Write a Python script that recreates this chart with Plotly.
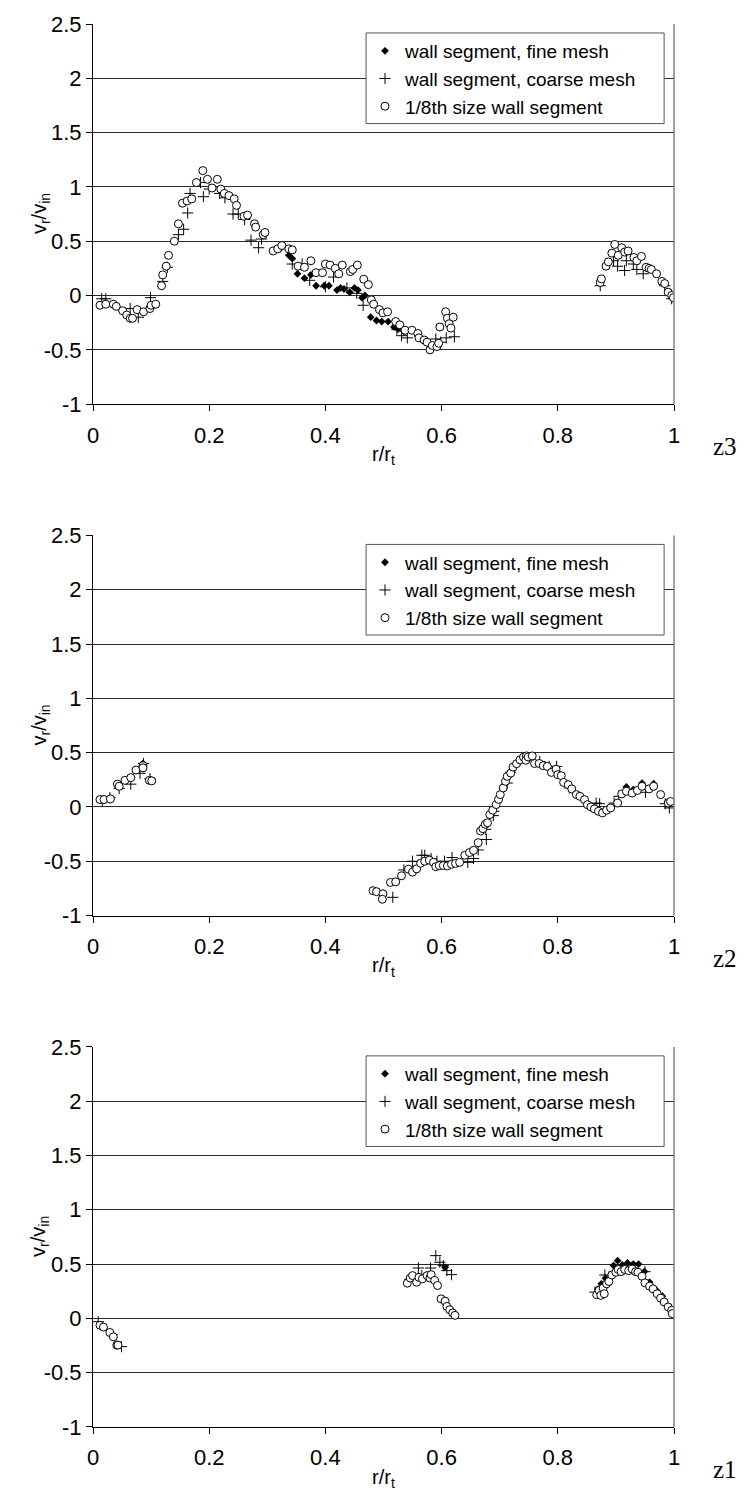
import plotly.graph_objects as go

# ---------------- data (r/r_t , v_r/v_in) ----------------
# panel z3 (top)
z3_fine = [(0.322,0.43),(0.337,0.37),(0.343,0.34),(0.352,0.2),(0.364,0.16),(0.375,0.19),(0.384,0.09),
           (0.398,0.09),(0.406,0.09),(0.42,0.05),(0.426,0.07),(0.432,0.06),(0.442,0.03),(0.45,0.07),
           (0.456,0.05),(0.463,-0.02),(0.468,0.0),(0.478,-0.2),(0.488,-0.23),(0.497,-0.24),(0.508,-0.24),
           (0.518,-0.29),(0.525,-0.31),(0.535,-0.33)]
z3_coarse = [(0.015,-0.03),(0.022,-0.03),(0.064,-0.12),(0.078,-0.2),(0.099,-0.02),(0.12,0.13),(0.128,0.26),
             (0.147,0.56),(0.156,0.61),(0.163,0.76),(0.167,0.94),(0.185,1.04),(0.19,0.91),(0.2,0.98),
             (0.218,0.94),(0.227,0.9),(0.241,0.75),(0.25,0.75),(0.261,0.7),(0.272,0.51),(0.285,0.44),
             (0.29,0.52),(0.343,0.29),(0.36,0.29),(0.373,0.14),(0.4,0.08),(0.414,0.17),(0.437,0.07),
             (0.454,0.02),(0.465,-0.09),(0.523,-0.31),(0.531,-0.37),(0.541,-0.39),(0.59,-0.4),(0.598,-0.43),
             (0.608,-0.39),(0.622,-0.38),(0.873,0.09),(0.896,0.32),(0.903,0.27),(0.915,0.23),(0.918,0.32),
             (0.93,0.29),(0.936,0.24),(0.947,0.2),(0.984,0.09),(0.996,-0.03)]
z3_small = [(0.012,-0.09),(0.022,-0.08),(0.035,-0.08),(0.04,-0.1),(0.051,-0.14),(0.058,-0.18),(0.064,-0.21),
            (0.068,-0.21),(0.076,-0.13),(0.087,-0.15),(0.098,-0.12),(0.1,-0.09),(0.108,-0.08),(0.118,0.09),
            (0.12,0.19),(0.126,0.27),(0.13,0.37),(0.14,0.5),(0.147,0.66),(0.154,0.85),(0.162,0.87),
            (0.17,0.89),(0.178,1.04),(0.189,1.15),(0.197,1.07),(0.205,0.99),(0.214,1.07),(0.22,0.98),
            (0.226,0.94),(0.234,0.92),(0.243,0.89),(0.247,0.83),(0.26,0.73),(0.266,0.74),(0.278,0.66),
            (0.28,0.63),(0.293,0.56),(0.296,0.58),(0.31,0.41),(0.318,0.43),(0.325,0.46),(0.337,0.43),
            (0.343,0.42),(0.353,0.27),(0.364,0.26),(0.375,0.32),(0.384,0.21),(0.395,0.21),(0.4,0.29),
            (0.408,0.28),(0.417,0.25),(0.423,0.2),(0.429,0.28),(0.443,0.22),(0.447,0.24),(0.455,0.28),
            (0.466,0.15),(0.474,0.1),(0.479,-0.04),(0.483,-0.08),(0.493,-0.13),(0.499,-0.16),(0.507,-0.15),
            (0.521,-0.24),(0.528,-0.27),(0.537,-0.32),(0.549,-0.32),(0.559,-0.35),(0.561,-0.39),(0.57,-0.41),
            (0.575,-0.43),(0.58,-0.5),(0.584,-0.46),(0.592,-0.47),(0.595,-0.44),(0.597,-0.29),(0.607,-0.15),
            (0.61,-0.21),(0.613,-0.26),(0.616,-0.3),(0.62,-0.2),
            (0.873,0.12),(0.875,0.153),(0.883,0.27),(0.887,0.31),(0.893,0.39),(0.898,0.47),(0.904,0.37),
            (0.91,0.44),(0.915,0.4),(0.921,0.41),(0.931,0.35),(0.936,0.32),(0.944,0.36),(0.952,0.26),
            (0.957,0.25),(0.961,0.24),(0.97,0.2),(0.979,0.13),(0.984,0.11),(0.99,0.03),(0.996,0.0),(0.999,-0.02)]

# panel z2 (middle)
z2_fine = [(0.086,0.4),(0.918,0.184),(0.93,0.16),(0.945,0.22),(0.965,0.214)]
z2_coarse = [(0.016,0.055),(0.029,0.085),(0.045,0.17),(0.065,0.21),(0.081,0.31),(0.087,0.4),(0.098,0.26),
             (0.516,-0.832),(0.535,-0.58),(0.55,-0.5),(0.566,-0.445),(0.571,-0.445),(0.582,-0.475),
             (0.592,-0.5),(0.605,-0.5),(0.618,-0.466),(0.645,-0.51),(0.655,-0.475),(0.663,-0.396),
             (0.676,-0.206),(0.677,-0.3),(0.689,-0.08),(0.69,-0.04),(0.713,0.22),(0.719,0.32),
             (0.769,0.419),(0.785,0.373),(0.798,0.373),(0.82,0.175),(0.866,0.036),(0.872,0.03),
             (0.897,0.036),(0.905,0.098),(0.951,0.135),(0.985,0.03),(0.992,-0.009)]
z2_small = [(0.012,0.068),(0.019,0.068),(0.03,0.074),(0.042,0.21),(0.045,0.19),(0.055,0.245),(0.065,0.27),
            (0.074,0.34),(0.086,0.38),(0.086,0.36),(0.097,0.245),(0.101,0.24),
            (0.482,-0.771),(0.488,-0.78),(0.499,-0.8),(0.498,-0.85),(0.512,-0.695),(0.521,-0.69),
            (0.531,-0.634),(0.543,-0.573),(0.55,-0.6),(0.557,-0.57),(0.564,-0.518),(0.571,-0.5),
            (0.579,-0.49),(0.586,-0.51),(0.59,-0.55),(0.596,-0.54),(0.603,-0.54),(0.61,-0.543),
            (0.617,-0.528),(0.624,-0.52),(0.631,-0.51),(0.64,-0.445),(0.648,-0.42),(0.655,-0.4),
            (0.663,-0.329),(0.667,-0.222),(0.671,-0.2),(0.675,-0.16),(0.679,-0.146),(0.683,-0.07),
            (0.688,-0.03),(0.694,0.022),(0.698,0.07),(0.701,0.114),(0.706,0.175),(0.71,0.236),
            (0.713,0.282),(0.719,0.312),(0.723,0.367),(0.729,0.398),(0.735,0.434),(0.741,0.459),
            (0.746,0.47),(0.745,0.43),(0.749,0.46),(0.756,0.47),(0.76,0.4),(0.768,0.4),(0.775,0.38),
            (0.782,0.373),(0.789,0.318),(0.797,0.348),(0.8,0.297),(0.806,0.288),(0.81,0.226),
            (0.818,0.205),(0.824,0.166),(0.832,0.114),(0.838,0.098),(0.846,0.067),(0.851,0.021),
            (0.857,0.0),(0.863,-0.018),(0.87,-0.04),(0.877,-0.055),(0.884,-0.03),(0.891,-0.009),
            (0.903,0.036),(0.91,0.12),(0.918,0.144),(0.928,0.128),(0.937,0.152),(0.945,0.19),
            (0.957,0.166),(0.965,0.19),(0.977,0.114),(0.99,0.036),(0.994,0.05)]

# panel z1 (bottom)
z1_fine = [(0.606,0.47),(0.869,0.27),(0.875,0.318),(0.882,0.37),(0.896,0.486),(0.903,0.532),(0.911,0.492),
           (0.92,0.51),(0.93,0.5),(0.939,0.5),(0.949,0.431),(0.958,0.333),(0.97,0.257),(0.98,0.205),
           (0.993,0.09)]
z1_coarse = [(0.009,-0.03),(0.033,-0.15),(0.049,-0.26),(0.545,0.36),(0.56,0.464),(0.566,0.394),
             (0.581,0.464),(0.59,0.578),(0.597,0.517),(0.603,0.486),(0.609,0.44),(0.617,0.403),
             (0.864,0.242),(0.881,0.4),(0.888,0.38),(0.95,0.43)]
z1_small = [(0.012,-0.063),(0.018,-0.08),(0.029,-0.13),(0.035,-0.17),(0.041,-0.246),(0.043,-0.246),
            (0.541,0.324),(0.546,0.372),(0.55,0.394),(0.557,0.333),(0.561,0.378),(0.567,0.364),
            (0.575,0.394),(0.58,0.372),(0.582,0.403),(0.588,0.35),(0.593,0.303),(0.599,0.18),
            (0.606,0.159),(0.609,0.11),(0.614,0.08),(0.619,0.05),(0.623,0.028),
            (0.867,0.218),(0.871,0.258),(0.874,0.212),(0.878,0.279),(0.88,0.227),(0.884,0.318),
            (0.888,0.34),(0.893,0.4),(0.9,0.425),(0.904,0.45),(0.909,0.431),(0.915,0.45),(0.922,0.44),
            (0.928,0.455),(0.934,0.431),(0.938,0.425),(0.945,0.388),(0.95,0.327),(0.958,0.297),
            (0.964,0.272),(0.971,0.227),(0.977,0.187),(0.983,0.151),(0.99,0.105),(0.996,0.074),
            (0.997,0.044)]

series_names = ["wall segment, fine mesh", "wall segment, coarse mesh", "1/8th size wall segment"]
panel_labels = ["z3", "z2", "z1"]
x_ticks = [0, 0.2, 0.4, 0.6, 0.8, 1]
x_ticktext = ["0", "0.2", "0.4", "0.6", "0.8", "1"]
y_ticks = [-1, -0.5, 0, 0.5, 1, 1.5, 2, 2.5]
y_ticktext = ["-1", "-0.5", "0", "0.5", "1", "1.5", "2", "2.5"]

panels = [(z3_fine, z3_coarse, z3_small), (z2_fine, z2_coarse, z2_small), (z1_fine, z1_coarse, z1_small)]

# ---------------- styling ----------------
FONT = "Liberation Sans, Arial, sans-serif"
W, H = 745, 1509
ML, MR, MT, MB = 93, 71, 17, 82
PW = W - ML - MR
PH = H - MT - MB
panel_top_px = [17, 531, 1045]
panel_h_px = 382

def dom(top):
    y1 = 1 - (top - MT) / PH
    y0 = 1 - (top + panel_h_px - MT) / PH
    return [max(0, y0), min(1, y1)]

marker_styles = [
    dict(symbol="diamond", size=6, color="black", line=dict(width=0)),
    dict(symbol="cross-thin", size=8, color="black", line=dict(width=1, color="black")),
    dict(symbol="circle", size=8, color="white", line=dict(width=1, color="black")),
]

fig = go.Figure()
legend_keys = ["legend", "legend2", "legend3"]
for p, data in enumerate(panels):
    ax = "" if p == 0 else str(p + 1)
    for s, pts in enumerate(data):
        fig.add_trace(go.Scatter(
            x=[q[0] for q in pts], y=[q[1] for q in pts], mode="markers",
            name=series_names[s], marker=marker_styles[s],
            xaxis="x" + ax, yaxis="y" + ax, legend=legend_keys[p],
            showlegend=True,
        ))

layout = dict(
    width=W, height=H, margin=dict(l=ML, r=MR, t=MT, b=MB),
    paper_bgcolor="white", plot_bgcolor="white",
    font=dict(family=FONT, color="black"),
    shapes=[], annotations=[],
)
for p in range(3):
    ax = "" if p == 0 else str(p + 1)
    d = dom(panel_top_px[p])
    layout["xaxis" + ax] = dict(
        domain=[0, 1], anchor="y" + ax, range=[0, 1], tickvals=x_ticks, ticktext=x_ticktext,
        showline=True, linecolor="black", linewidth=1, ticks="outside", ticklen=6, tickcolor="black",
        showgrid=False, zeroline=False, tickfont=dict(size=22, family=FONT), ticklabelstandoff=5,
        title=dict(text="r/r<sub>t</sub>", font=dict(size=20, family=FONT), standoff=0),
    )
    layout["yaxis" + ax] = dict(
        domain=d, anchor="x" + ax, range=[-1, 2.5], tickvals=y_ticks, ticktext=y_ticktext,
        showline=True, linecolor="black", linewidth=1, ticks="outside", ticklen=6, tickcolor="black",
        showgrid=True, gridcolor="#2a2a2a", gridwidth=1, zeroline=False,
        tickfont=dict(size=22, family=FONT),
    )
    # y axis title (placed close to the tick labels, as in the original)
    layout["annotations"].append(dict(
        text="v<sub>r</sub>/v<sub>in</sub>", textangle=-90, xref="paper", yref="y" + ax + " domain",
        x=(40 - ML) / PW, y=0.5, xanchor="center", yanchor="middle", showarrow=False,
        font=dict(size=20, family=FONT, color="black"),
    ))
    # right border
    layout["shapes"].append(dict(type="line", xref="x" + ax + " domain", yref="y" + ax + " domain",
                                 x0=1, x1=1, y0=0, y1=1, line=dict(color="#808080", width=1.5)))
    # legend box
    layout["shapes"].append(dict(type="rect", xref="x" + ax + " domain", yref="y" + ax + " domain",
                                 x0=0.47, x1=0.983, y0=0.738, y1=0.9764, layer="above",
                                 fillcolor="white", line=dict(color="#555555", width=1)))
    lk = legend_keys[p]
    top_paper = 1 - (panel_top_px[p] + 8 - MT) / PH
    layout[lk] = dict(
        x=(365 - ML) / PW, y=top_paper, xanchor="left", yanchor="top",
        xref="paper", yref="paper", bgcolor="rgba(0,0,0,0)", borderwidth=0,
        font=dict(size=19, family=FONT), traceorder="normal",
        itemclick=False,
    )
    layout["annotations"].append(dict(
        text=panel_labels[p], xref="paper", yref="paper",
        x=(725 - ML) / PW, y=1 - (panel_top_px[p] + panel_h_px + 43 - MT) / PH,
        xanchor="center", yanchor="middle", showarrow=False,
        font=dict(size=25, family="Liberation Serif, Times New Roman, serif", color="black"),
    ))

fig.update_layout(**layout)
fig.write_html("out.html")
